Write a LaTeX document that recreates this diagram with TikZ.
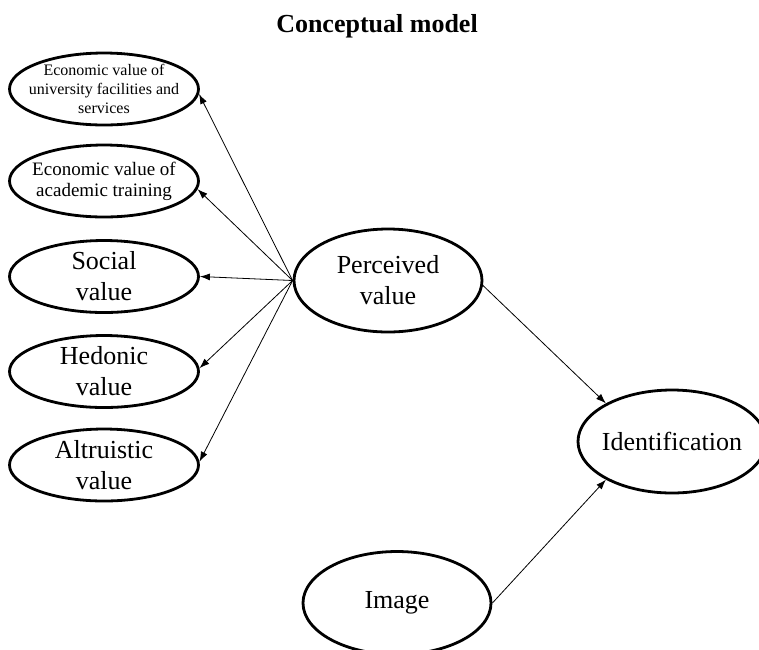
\documentclass[tikz,border=0pt]{standalone}
\usepackage{fontspec}
\setmainfont{Liberation Serif}
\usetikzlibrary{shapes.geometric,arrows.meta}
\tikzset{
  oval/.style={ellipse, draw, line width=2.8pt, inner xsep=-40pt, inner ysep=-25pt, align=center},
  leftoval/.style={oval, minimum width=189pt, minimum height=72pt},
  bigoval/.style={oval, minimum width=188pt, minimum height=103pt},
  bigtext/.style={font=\fontsize{26}{31}\selectfont},
  midtext/.style={font=\fontsize{19}{21}\selectfont},
  smalltext/.style={font=\fontsize{16}{19}\selectfont},
  link/.style={line width=0.8pt, -{Latex[length=10pt,width=7pt]}}
}
\begin{document}
\begin{tikzpicture}[x=1pt,y=-1pt]
\useasboundingbox (0,0) rectangle (759,649);
\node[font=\fontsize{26}{30}\selectfont\bfseries] (title) at (377,26) {Conceptual model};
\node[leftoval, smalltext] (e1) at (104,89) {Economic value of\\university facilities and\\services};
\node[leftoval, midtext] (e2) at (104,181) {Economic value of\\academic training};
\node[leftoval, bigtext] (e3) at (104,276.5) {Social\\value};
\node[leftoval, bigtext] (e4) at (104,371.5) {Hedonic\\value};
\node[leftoval, bigtext] (e5) at (104,465) {Altruistic\\value};
\node[bigoval, bigtext] (pv) at (388,280.5) {Perceived\\value};
\node[bigoval, bigtext] (id) at (672,441.5) {Identification};
\node[bigoval, bigtext] (img) at (397,603) {Image};
\draw[link] (pv.west) -- (e1.-3);
\draw[link] (pv.west) -- (e2.-5);
\draw[link] (pv.west) -- (e3.east);
\draw[link] (pv.west) -- (e4.2);
\draw[link] (pv.west) -- (e5.2);
\draw[link] (pv.-3) -- (id.150);
\draw[link] (img.east) -- (id.210);
\end{tikzpicture}
\end{document}
